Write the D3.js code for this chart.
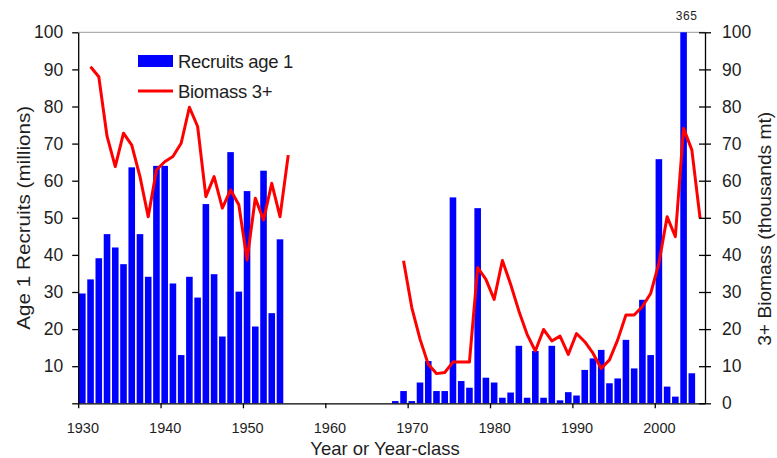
<!DOCTYPE html>
<html>
<head>
<meta charset="utf-8">
<script src="https://cdn.jsdelivr.net/npm/d3@7"></script>
<style>
  html, body { margin: 0; padding: 0; background: #ffffff; }
  svg { display: block; font-family: "Liberation Sans", Arial, sans-serif; }
</style>
</head>
<body>
<svg id="chart" width="777" height="458"></svg>
<script>
// ---------- DATA ----------
const recruitYears = [
  1930,1931,1932,1933,1934,1935,1936,1937,1938,1939,1940,1941,1942,1943,1944,
  1945,1946,1947,1948,1949,1950,1951,1952,1953,1954,
  1968,1969,1970,1971,1972,1973,1974,1975,1976,1977,1978,1979,1980,1981,1982,
  1983,1984,1985,1986,1987,1988,1989,1990,1991,1992,1993,1994,1995,1996,1997,
  1998,1999,2000,2001,2002,2003,2004
];
const recruits = [
  29.6,33.4,39.1,45.6,42.0,37.5,63.6,45.6,34.1,64.0,64.0,32.3,13.0,34.1,28.5,
  53.7,34.8,18.0,67.7,30.1,57.2,20.7,62.7,24.3,44.2,
  0.6,3.3,0.6,5.6,11.4,3.3,3.3,55.5,6.0,4.2,52.6,6.9,5.6,1.5,2.9,
  15.5,1.5,14.1,1.5,15.5,0.8,3.0,2.1,9.0,12.1,14.4,5.4,6.7,17.1,9.4,
  27.9,13.0,65.8,4.5,1.8,365,8.1
];
const biomassYears = [
  1931,1932,1933,1934,1935,1936,1937,1938,1939,1940,1941,1942,1943,1944,1945,
  1946,1947,1948,1949,1950,1951,1952,1953,1954,1955,
  1956,
  1969,1970,1971,1972,1973,1974,1975,1976,1977,1978,1979,1980,1981,1982,1983,
  1984,1985,1986,1987,1988,1989,1990,1991,1992,1993,1994,1995,1996,1997,1998,
  1999,2000,2001,2002,2003,2004,2005
];
const biomass = [
  90.7,88.0,72.0,63.8,72.8,69.6,61.1,50.3,62.9,65.1,66.5,70.1,79.8,74.6,55.7,
  61.1,52.6,57.5,53.5,38.6,55.3,49.4,59.3,50.3,66.9,
  null,
  38.4,25.8,17.3,10.5,8.0,8.3,11.1,11.1,11.1,36.6,33.4,28.0,38.5,32.1,24.9,
  18.6,14.1,19.9,16.8,18.1,13.2,18.8,16.6,13.5,9.4,11.7,17.1,23.8,23.8,26.1,
  29.6,37.7,50.3,44.9,74.1,68.3,49.9
];
const xTickYears = [1930,1940,1950,1960,1970,1980,1990,2000];
const yTicks = [0,10,20,30,40,50,60,70,80,90,100];
const seriesNames = ["Recruits age 1", "Biomass 3+"];
const leftTitle = "Age 1 Recruits (millions)";
const rightTitle = "3+ Biomass (thousands mt)";
const xTitle = "Year or Year-class";

// ---------- LAYOUT ----------
const L = 78.2, R = 705, T = 32.3, B = 403.3;
const textColor = "#1e1e1e";
const svg = d3.select("#chart");

const x = d3.scaleLinear().domain([1930, 2006.1]).range([L, R]);
const yL = d3.scaleLinear().domain([0, 100]).range([B, T]);
const yR = d3.scaleLinear().domain([0, 100]).range([B, T]);
const step = x(1931) - x(1930);

// top frame line
svg.append("line")
  .attr("x1", L).attr("x2", R).attr("y1", T).attr("y2", T)
  .attr("stroke", "#9a9a9a").attr("stroke-width", 1);

// bars
const barData = recruitYears.map((yr, i) => ({ yr, v: recruits[i] }));
svg.append("g").selectAll("rect").data(barData).enter().append("rect")
  .attr("x", d => x(d.yr + 0.1))
  .attr("width", step * 0.8)
  .attr("y", d => yL(Math.min(d.v, 100)))
  .attr("height", d => B - yL(Math.min(d.v, 100)))
  .attr("fill", "#0000ff");

// label for clipped bar
barData.filter(d => d.v > 100).forEach(d => {
  svg.append("text")
    .attr("x", x(d.yr + 0.5) + 3)
    .attr("y", T - 12)
    .attr("text-anchor", "middle")
    .attr("font-size", 12)
    .attr("letter-spacing", 0.6)
    .attr("fill", textColor)
    .text(d.v);
});

// biomass line
const lineData = biomassYears.map((yr, i) => ({ yr, v: biomass[i] }));
const line = d3.line()
  .defined(d => d.v !== null)
  .x(d => x(d.yr + 0.5))
  .y(d => yR(d.v));
svg.append("path")
  .datum(lineData)
  .attr("d", line)
  .attr("fill", "none")
  .attr("stroke", "#ff0000")
  .attr("stroke-width", 3)
  .attr("stroke-linejoin", "round");

// ---------- AXES ----------
function styleAxis(g) {
  g.selectAll(".domain").attr("stroke", "#000").attr("stroke-width", 1.3);
  g.selectAll(".tick line").attr("stroke", "#000").attr("stroke-width", 1.3);
  g.selectAll("text").attr("fill", textColor)
    .attr("font-family", "'Liberation Sans', Arial, sans-serif");
}

// left axis
const gL = svg.append("g").attr("transform", `translate(${L},0)`)
  .call(d3.axisLeft(yL).tickValues(yTicks).tickSize(6).tickSizeOuter(0)
    .tickPadding(9).tickFormat(d => d === 0 ? "" : d));
styleAxis(gL);
gL.selectAll("text").attr("font-size", 17.5);

// right axis (ticks crossing)
const gR = svg.append("g").attr("transform", `translate(${R},0)`)
  .call(d3.axisRight(yR).tickValues(yTicks).tickSize(6).tickSizeOuter(0)
    .tickPadding(11).tickFormat(d => d));
gR.selectAll(".tick line").attr("x1", -6);
styleAxis(gR);
gR.selectAll("text").attr("font-size", 17.5);

// bottom axis
const gB = svg.append("g").attr("transform", `translate(0,${B})`)
  .call(d3.axisBottom(x).tickValues(xTickYears).tickSize(5).tickSizeOuter(0)
    .tickPadding(14).tickFormat(d3.format("d")));
styleAxis(gB);
gB.selectAll("text").attr("font-size", 14.5).attr("dx", step / 2);

// ---------- TITLES ----------
svg.append("text")
  .attr("transform", `translate(30,${(T + B) / 2}) rotate(-90)`)
  .attr("text-anchor", "middle")
  .attr("font-size", 18)
  .attr("textLength", 224).attr("lengthAdjust", "spacingAndGlyphs")
  .attr("fill", textColor)
  .text(leftTitle);

svg.append("text")
  .attr("transform", `translate(771,${(T + B) / 2 + 11}) rotate(-90)`)
  .attr("text-anchor", "middle")
  .attr("font-size", 18)
  .attr("textLength", 234).attr("lengthAdjust", "spacingAndGlyphs")
  .attr("fill", textColor)
  .text(rightTitle);

svg.append("text")
  .attr("x", 385).attr("y", 455)
  .attr("text-anchor", "middle")
  .attr("font-size", 18.5)
  .attr("fill", textColor)
  .text(xTitle);

// ---------- LEGEND ----------
const leg = svg.append("g");
leg.append("rect").attr("x", 138).attr("y", 55).attr("width", 35).attr("height", 12)
  .attr("fill", "#0000ff");
leg.append("text").attr("x", 178).attr("y", 67.5).attr("font-size", 18.5)
  .attr("letter-spacing", -0.3).attr("fill", textColor).text(seriesNames[0]);
leg.append("line").attr("x1", 138).attr("x2", 173).attr("y1", 91).attr("y2", 91)
  .attr("stroke", "#ff0000").attr("stroke-width", 3);
leg.append("text").attr("x", 178).attr("y", 97.5).attr("font-size", 18.5)
  .attr("letter-spacing", -0.3).attr("fill", textColor).text(seriesNames[1]);
</script>
</body>
</html>
